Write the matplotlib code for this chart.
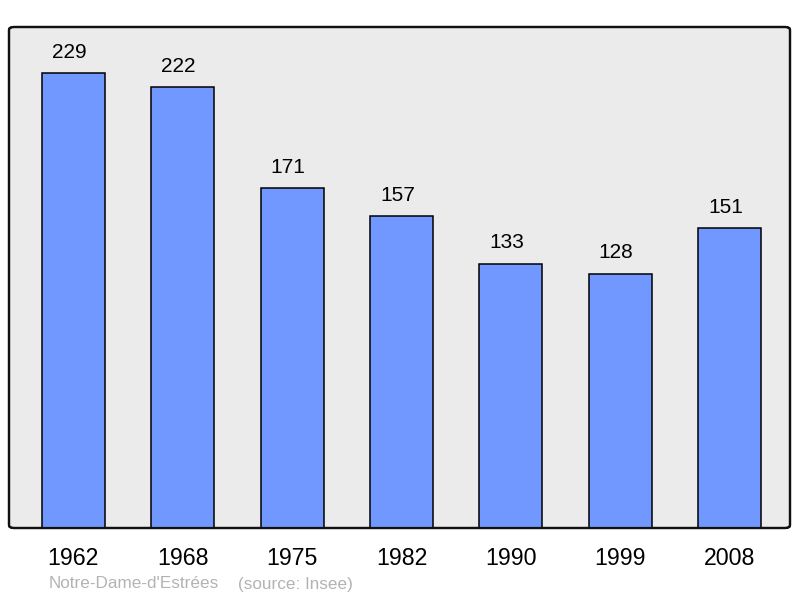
import matplotlib
matplotlib.use("Agg")
import matplotlib.pyplot as plt
from matplotlib.patches import FancyBboxPatch

years = ["1962", "1968", "1975", "1982", "1990", "1999", "2008"]
population = [229, 222, 171, 157, 133, 128, 151]
commune = "Notre-Dame-d'Estrées"
source = "(source: Insee)"

plt.rcParams['font.family'] = ['Liberation Sans', 'DejaVu Sans']

fig = plt.figure(figsize=(8, 5.98), dpi=100)
ax = fig.add_axes([9/800, 70/598, 781/800, 501/598])
ax.set_facecolor('none')

x = list(range(len(years)))
bars = ax.bar(x, population, width=0.576, color='#7098ff', edgecolor='black', linewidth=1.1, zorder=3)
for xi, v in zip(x, population):
    ax.annotate(str(v), (xi, v), xytext=(-3, 8), textcoords='offset points',
                ha='center', va='bottom', fontsize=15, color='black')

ax.set_xlim(-0.588, 6.551)
ax.set_ylim(0, 252)
ax.set_xticks(x)
ax.set_xticklabels(years, fontsize=16.7)
ax.tick_params(axis='x', length=0, pad=14)
ax.set_yticks([])
for s in ax.spines.values():
    s.set_visible(False)

# rounded frame
frame = FancyBboxPatch((0, 0), 1, 1, boxstyle="round,pad=0,rounding_size=0.006",
                       transform=ax.transAxes, facecolor='#ebebeb', edgecolor='#111111',
                       linewidth=1.6, zorder=0, clip_on=False)
ax.add_patch(frame)
frame2 = FancyBboxPatch((0, 0), 1, 1, boxstyle="round,pad=0,rounding_size=0.006",
                        transform=ax.transAxes, facecolor='none', edgecolor='#111111',
                        linewidth=1.6, zorder=5, clip_on=False)
ax.add_patch(frame2)

fig.text(49/800, 1 - 584/598, commune, fontsize=12.3, color='#b3b3b3', ha='left', va='center')
fig.text(238/800, 1 - 584/598, source, fontsize=12.3, color='#b3b3b3', ha='left', va='center')

fig.savefig('out.png', dpi=100)
